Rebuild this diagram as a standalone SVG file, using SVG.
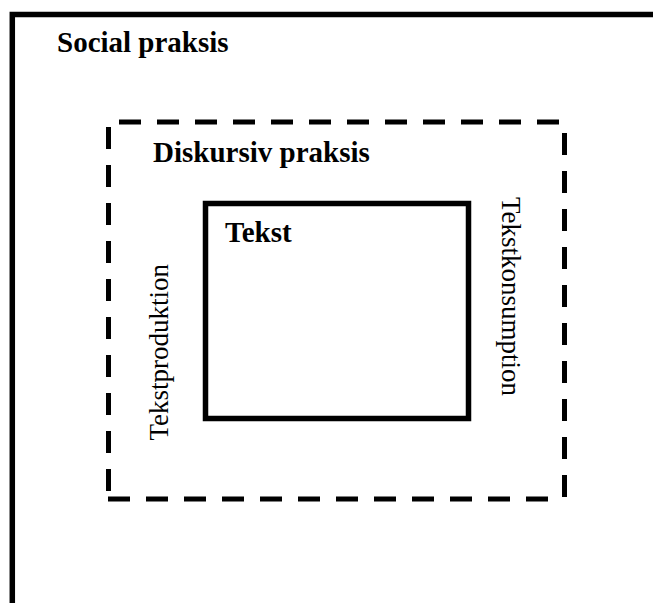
<svg xmlns="http://www.w3.org/2000/svg" width="653" height="603" viewBox="0 0 653 603">
<style>
.solid{fill:none;stroke:#000;stroke-width:5.5}
.dash{fill:none;stroke:#000;stroke-width:5;stroke-dasharray:22 16}
.title{font-family:'Liberation Serif',serif;font-weight:bold;font-size:29px;fill:#000}
.side{font-family:'Liberation Serif',serif;font-size:27px;fill:#000}
</style>
<rect width="653" height="603" fill="#fff"/>
<g id="social">
<path class="solid" d="M12.3,603 V14.5 H653"/>
<text class="title" x="57" y="52">Social praksis</text>
</g>
<g id="diskursiv">
<line class="dash" x1="119" y1="122" x2="560" y2="122"/>
<line class="dash" x1="564.5" y1="133" x2="564.5" y2="497"/>
<line class="dash" x1="108" y1="499" x2="549" y2="499"/>
<line class="dash" x1="108.5" y1="127" x2="108.5" y2="492"/>
<text class="title" x="153" y="162">Diskursiv praksis</text>
</g>
<g id="tekst">
<rect class="solid" x="205.5" y="203.5" width="263" height="215" stroke-width="5"/>
<text class="title" x="225" y="242">Tekst</text>
</g>
<g id="tekstproduktion">
<text class="side" transform="translate(167.5,440.5) rotate(-90)">Tekstproduktion</text>
</g>
<g id="tekstkonsumption">
<text class="side" transform="translate(502,197) rotate(90)">Tekstkonsumption</text>
</g>
<g id="connectors"></g>
</svg>
